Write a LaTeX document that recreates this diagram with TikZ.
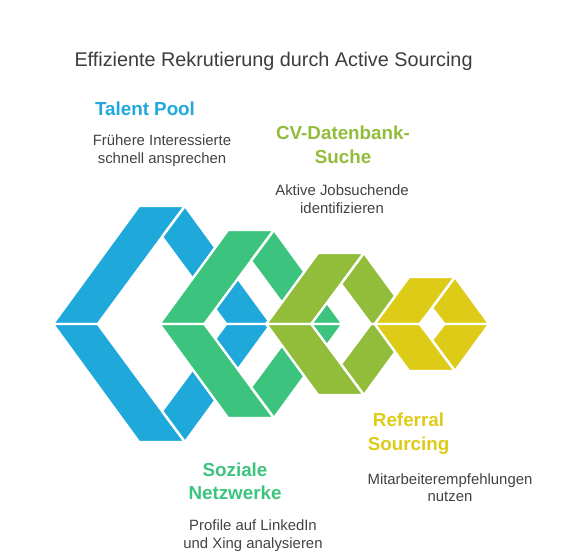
\documentclass[tikz,border=0pt]{standalone}
\usepackage{fontspec}
\setmainfont{Liberation Sans}
\usetikzlibrary{positioning}

\definecolor{poolblue}{HTML}{1FA9DB}
\definecolor{netgreen}{HTML}{3CC47F}
\definecolor{cvolive}{HTML}{91BD3A}
\definecolor{refyellow}{HTML}{DECB18}
\definecolor{titlegray}{HTML}{3C3C3C}
\definecolor{bodygray}{HTML}{424242}

\tikzset{
  piece/.style={fill=#1, draw=white, line width=2.4pt, line join=round},
  head/.style={font=\fontsize{18.8}{23.5}\selectfont\bfseries, align=center},
  body/.style={font=\fontsize{14.9}{17.6}\selectfont, text=bodygray, align=center}
}

% one ring of the chain: centre x, half height, colour
\newcommand{\ringunit}[3]{%
  \pgfmathsetmacro{\ringW}{23+#2/1.37}%
  \pgfmathsetmacro{\ringw}{\ringW-45}%
  \pgfmathsetmacro{\ringh}{#2-31}%
  \draw[piece=#3] (#1-\ringW,324) -- (#1-23,324-#2) -- (#1+23,324-#2) -- (#1,324-\ringh) -- (#1-\ringw,324) -- cycle;
  \draw[piece=#3] (#1+23,324-#2) -- (#1+\ringW,324) -- (#1+\ringw,324) -- (#1,324-\ringh) -- cycle;
  \draw[piece=#3] (#1-\ringW,324) -- (#1-23,324+#2) -- (#1+23,324+#2) -- (#1,324+\ringh) -- (#1-\ringw,324) -- cycle;
  \draw[piece=#3] (#1+23,324+#2) -- (#1+\ringW,324) -- (#1+\ringw,324) -- (#1,324+\ringh) -- cycle;
}

\begin{document}
\begin{tikzpicture}[x=1pt,y=-1pt]
      \useasboundingbox (0,0) rectangle (566,554);

      \ringunit{162}{118}{poolblue}
      \ringunit{251}{94}{netgreen}
      \ringunit{341}{71}{cvolive}
      \ringunit{432}{47}{refyellow}

      \node[anchor=west, font=\fontsize{19.8}{24}\selectfont, text=titlegray] (title) at (71,61)
            {Effiziente Rekrutierung durch Active Sourcing};

      \node[head, text=poolblue]  (poolHead) at (145,109)   {Talent Pool};
      \node[body]                 (poolTxt)  at (162,150.5) {Frühere Interessierte\\schnell ansprechen};

      \node[head, text=cvolive]   (cvHead)   at (343,145)   {CV-Datenbank-\\Suche};
      \node[body]                 (cvTxt)    at (342,199)   {Aktive Jobsuchende\\identifizieren};

      \node[head, text=netgreen]  (netHead)  at (235,481.5) {Soziale\\Netzwerke};
      \node[body]                 (netTxt)   at (253,535.5) {Profile auf LinkedIn\\und Xing analysieren};

      \node[head, text=refyellow] (refHead)  at (408.5,433.5) {Referral\\Sourcing};
      \node[body]                 (refTxt)   at (450,487.5) {Mitarbeiterempfehlungen\\nutzen};
    \end{tikzpicture}
\end{document}
